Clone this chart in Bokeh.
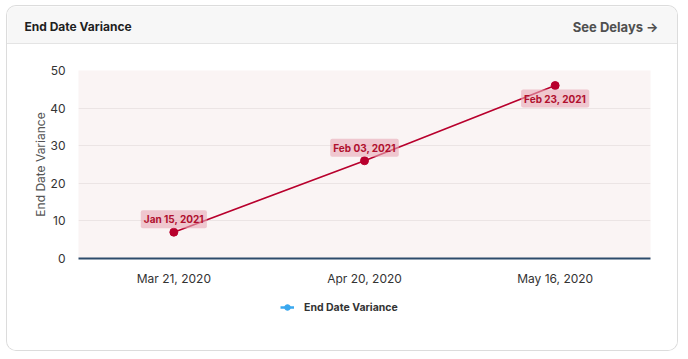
from bokeh.plotting import figure
from bokeh.layouts import column
from bokeh.models import (ColumnDataSource, FactorRange, Range1d, Legend, LegendItem)
from bokeh.core.properties import value
from bokeh.embed import file_html
from bokeh.resources import INLINE

# ---- data ----
categories = ["Mar 21, 2020", "Apr 20, 2020", "May 16, 2020"]
variance = [7, 26, 46]
end_dates = ["Jan 15, 2021", "Feb 03, 2021", "Feb 23, 2021"]
y_ticks = [0, 10, 20, 30, 40, 50]
title = "End Date Variance"
series_name = "End Date Variance"
link_text = "See Delays \u2192"

FONT = "Inter"
RED = "#b8002d"
W = 670

# ---- header strip ----
HH = 37
hdr = figure(width=W, height=HH, x_range=Range1d(0, W), y_range=Range1d(HH, 0),
             x_axis_type=None, y_axis_type=None, output_backend="svg",
             toolbar_location=None, min_border=0)
hdr.background_fill_color = "#f7f7f7"
hdr.border_fill_color = "#f7f7f7"
hdr.outline_line_color = None
hdr.grid.visible = False
hsrc = ColumnDataSource(dict(x=[17, 651], y=[20, 20], t=[title, link_text],
                             align=["left", "right"], color=["#1f1f1f", "#505050"],
                             size=["12px", "13px"]))
hdr.text(x="x", y="y", text="t", text_align="align", text_color="color", source=hsrc,
         text_font=value(FONT), text_font_size="size", text_font_style="bold",
         text_baseline="middle")
hdr_box = column(hdr, spacing=0, margin=0,
                 styles={"box-shadow": "0 1px 0 #e4e4e4", "z-index": "1"})

# ---- main chart ----
p = figure(width=W, height=251, x_range=FactorRange(*categories, range_padding=0),
           y_range=Range1d(0, 50), output_backend="svg", toolbar_location=None,
           min_border_left=71, min_border_right=27, min_border_top=27,
           min_border_bottom=36)
p.border_fill_color = "white"
p.background_fill_color = "#faf4f4"
p.outline_line_color = None

p.yaxis.ticker = y_ticks
p.yaxis.axis_line_color = None
p.yaxis.major_tick_line_color = None
p.yaxis.minor_tick_line_color = None
p.yaxis.major_label_text_font = FONT
p.yaxis.major_label_text_font_size = "12px"
p.yaxis.major_label_text_color = "#333333"
p.yaxis.major_label_standoff = 7
p.yaxis.axis_label = series_name
p.yaxis.axis_label_text_font = FONT
p.yaxis.axis_label_text_font_style = "normal"
p.yaxis.axis_label_text_font_size = "12px"
p.yaxis.axis_label_text_color = "#555555"
p.yaxis.axis_label_standoff = -1

p.xaxis.axis_line_color = "#2d4b6b"
p.xaxis.axis_line_width = 2
p.xaxis.major_tick_line_color = None
p.xaxis.minor_tick_line_color = None
p.xaxis.major_label_text_font = FONT
p.xaxis.major_label_text_font_size = "12px"
p.xaxis.major_label_text_color = "#333333"
p.xaxis.major_label_standoff = 6

p.xgrid.grid_line_color = None
p.ygrid.grid_line_color = "#ebe4e4"
p.ygrid.grid_line_width = 1

offsets = [13 if v > 40 else -13 for v in variance]
src = ColumnDataSource(dict(x=categories, y=variance, label=end_dates, dy=offsets))
p.line("x", "y", source=src, line_color=RED, line_width=1.7)
p.scatter("x", "y", source=src, size=8, fill_color=RED, line_color=RED)
p.text(x="x", y="y", text="label", y_offset="dy", source=src,
       text_font=value(FONT), text_font_size="10px", text_font_style="bold",
       text_color="#b0102e", text_align="center", text_baseline="middle",
       background_fill_color="#e8a9b6", background_fill_alpha=0.6,
       border_radius=2, padding=3)

# ---- legend strip ----
LH = 56
lf = figure(width=W, height=LH, x_range=Range1d(0, W), y_range=Range1d(LH, 0),
            x_axis_type=None, y_axis_type=None, output_backend="svg",
            toolbar_location=None, min_border=0)
lf.background_fill_color = "white"
lf.border_fill_color = "white"
lf.outline_line_color = None
lf.grid.visible = False
# hidden swatch renderers (only their legend glyph is shown)
lg_src = ColumnDataSource(dict(v=variance))
lg_line = lf.line("v", "v", source=lg_src, line_color="#3aa8ef", line_width=2.5,
                  visible=False)
lg_dot = lf.scatter("v", "v", source=lg_src, size=7, fill_color="#3aa8ef",
                    line_color="#3aa8ef", visible=False)
legend = Legend(items=[LegendItem(label=series_name, renderers=[lg_line, lg_dot])],
                location=(273, 36), orientation="horizontal",
                label_text_font=FONT, label_text_font_size="10.5px",
                label_text_font_style="bold", label_text_color="#333333",
                glyph_width=14, glyph_height=14, label_standoff=10,
                label_height=14, padding=0, margin=0, spacing=0,
                inactive_fill_alpha=0, click_policy="none",
                border_line_color=None, background_fill_alpha=0)
lf.add_layout(legend, "center")
lf_box = column(lf, spacing=0, margin=0)

card = column(hdr_box, p, lf_box, spacing=0, margin=(6, 0, 0, 7),
              styles={"box-shadow": "0 0 0 1px #dcdcdc", "border-radius": "9px",
                      "overflow": "hidden", "background": "white"})

open("out.html", "w").write(file_html(card, INLINE))
